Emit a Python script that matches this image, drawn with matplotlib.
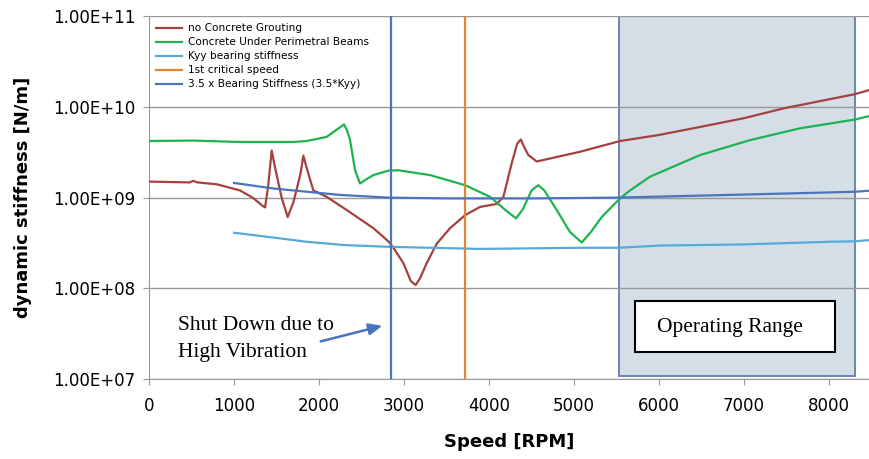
import matplotlib
matplotlib.use("Agg")
import matplotlib.pyplot as plt
from matplotlib.patches import Rectangle
from matplotlib.ticker import FixedLocator, FuncFormatter

# Speed [RPM] and dynamic stiffness [N/m]
speed_ncg = [0, 480, 520, 570, 800, 1070, 1225, 1330, 1365, 1400, 1443, 1480, 1560, 1631,
             1700, 1780, 1816, 1850, 1933, 2090, 2325, 2640, 2815, 2875, 2992, 3080, 3137,
             3190, 3267, 3384, 3541, 3718, 3894, 4090, 4169, 4267, 4330, 4373, 4420, 4463,
             4561, 5071, 5541, 6000, 6482, 7000, 7462, 8306, 8470]
stiff_ncg = [1.5e9, 1.47e9, 1.53e9, 1.47e9, 1.4e9, 1.2e9, 0.99e9, 0.82e9, 0.78e9, 1.3e9,
             3.3e9, 2.2e9, 1.0e9, 0.61e9, 0.9e9, 1.8e9, 2.9e9, 2.2e9, 1.2e9, 1.02e9, 0.73e9,
             0.46e9, 0.33e9, 0.28e9, 0.19e9, 0.12e9, 0.109e9, 0.13e9, 0.19e9, 0.31e9,
             0.46e9, 0.64e9, 0.79e9, 0.85e9, 1.02e9, 2.4e9, 3.9e9, 4.37e9, 3.5e9, 2.94e9,
             2.5e9, 3.2e9, 4.2e9, 4.9e9, 6.0e9, 7.5e9, 9.6e9, 1.38e10, 1.53e10]

speed_cpb = [0, 520, 1070, 1694, 1855, 2012, 2090, 2208, 2294, 2330, 2365, 2424, 2482,
             2560, 2639, 2815, 2933, 3306, 3718, 4012, 4200, 4318, 4400, 4500, 4580, 4650,
             4796, 4950, 5090, 5200, 5325, 5541, 5659, 5894, 6482, 7071, 7659, 8306, 8470]
stiff_cpb = [4.2e9, 4.25e9, 4.1e9, 4.1e9, 4.2e9, 4.5e9, 4.67e9, 5.6e9, 6.4e9, 5.5e9, 4.3e9,
             2.0e9, 1.43e9, 1.6e9, 1.77e9, 1.98e9, 2.0e9, 1.77e9, 1.37e9, 1.02e9, 0.72e9,
             0.59e9, 0.75e9, 1.2e9, 1.37e9, 1.2e9, 0.73e9, 0.42e9, 0.32e9, 0.42e9, 0.61e9,
             0.98e9, 1.2e9, 1.7e9, 2.94e9, 4.3e9, 5.8e9, 7.25e9, 7.9e9]

speed_kyy = [1000, 1463, 1855, 2300, 2815, 3894, 5071, 5521, 6000, 7000, 8000, 8306, 8470]
stiff_kyy = [4.1e8, 3.63e8, 3.26e8, 3.0e8, 2.87e8, 2.72e8, 2.8e8, 2.8e8, 2.96e8, 3.05e8,
             3.26e8, 3.3e8, 3.4e8]

speed_k35 = [1000, 1463, 1855, 2247, 2815, 3500, 4500, 5521, 7000, 8306, 8470]
stiff_k35 = [1.45e9, 1.26e9, 1.16e9, 1.07e9, 1.0e9, 0.98e9, 0.98e9, 1.0e9, 1.08e9, 1.16e9,
             1.19e9]

critical_speed = 3720
shutdown_speed = 2850
operating_range = (5530, 8300)

ytick_vals = [1e7, 1e8, 1e9, 1e10, 1e11]
xtick_vals = [0, 1000, 2000, 3000, 4000, 5000, 6000, 7000, 8000]

plt.rcParams['font.family'] = ['DejaVu Sans']

fig = plt.figure(figsize=(8.69, 4.59), dpi=100)
ax = fig.add_axes([0.1715, 0.174, 0.8285, 0.791])

c_red = '#a5413d'
c_green = '#1db34f'
c_light = '#56aad8'
c_orange = '#e8832f'
c_blue = '#4a74bb'

ax.add_patch(Rectangle((operating_range[0], 1.08e7), operating_range[1] - operating_range[0],
                       1e11 - 1.08e7, facecolor='#d5dde7', edgecolor='#6a84b2', lw=1.4,
                       zorder=1))

ax.plot(speed_ncg, stiff_ncg, color=c_red, lw=1.6, label='no Concrete Grouting', zorder=3)
ax.plot(speed_cpb, stiff_cpb, color=c_green, lw=1.6, label='Concrete Under Perimetral Beams', zorder=3)
ax.plot(speed_kyy, stiff_kyy, color=c_light, lw=1.6, label='Kyy bearing stiffness', zorder=3)
ax.plot([critical_speed, critical_speed], [1e7, 1e11], color=c_orange, lw=1.6,
        label='1st critical speed', zorder=3)
ax.plot(speed_k35, stiff_k35, color=c_blue, lw=1.6, label='3.5 x Bearing Stiffness (3.5*Kyy)', zorder=3)
ax.plot([shutdown_speed, shutdown_speed], [1e7, 1e11], color=c_blue, lw=1.6, zorder=3)

ax.set_yscale('log')
ax.set_xlim(0, 8470)
ax.set_ylim(1e7, 1e11)
ax.yaxis.set_major_locator(FixedLocator(ytick_vals))
ax.yaxis.set_minor_locator(FixedLocator([]))
ax.yaxis.set_major_formatter(FuncFormatter(lambda v, p: f"{v:.2E}"))
ax.set_xticks(xtick_vals)

ax.grid(axis='y', color='#999999', lw=1.0)
for s in ['top', 'right']:
    ax.spines[s].set_visible(False)
for s in ['left', 'bottom']:
    ax.spines[s].set_color('#999999')
ax.tick_params(colors='#999999', labelcolor='black', labelsize=12, length=4)
ax.tick_params(axis='x', pad=9)
ax.tick_params(axis='y', pad=6)

ax.set_xlabel('Speed [RPM]', fontsize=13, fontweight='bold', labelpad=13)
ax.set_ylabel('dynamic stiffness [N/m]', fontsize=13, fontweight='bold', labelpad=15)

leg = ax.legend(loc='upper left', bbox_to_anchor=(0.0, 1.0), frameon=False, fontsize=7.6,
                handlelength=2.4, handletextpad=0.6, labelspacing=0.38, borderaxespad=0.3)

# Operating range label box
ax.add_patch(Rectangle((5718, 2.0e7), 8071 - 5718, 7.2e7 - 2.0e7, facecolor='white',
                       edgecolor='black', lw=1.5, zorder=4))
ax.text(6830, 3.75e7, 'Operating Range', family='Liberation Serif', fontsize=15.5,
        ha='center', va='center', zorder=5)

ax.text(341, 2.75e7, 'Shut Down due to\nHigh Vibration', family='Liberation Serif',
        fontsize=15.5, ha='left', va='center', linespacing=1.6, zorder=5)
ax.annotate('', xy=(2776, 3.94e7), xytext=(1988, 2.56e7),
            arrowprops=dict(arrowstyle='-|>,head_length=0.8,head_width=0.35', color=c_blue,
                            lw=1.8), zorder=5)

fig.savefig('out.png', dpi=100)
